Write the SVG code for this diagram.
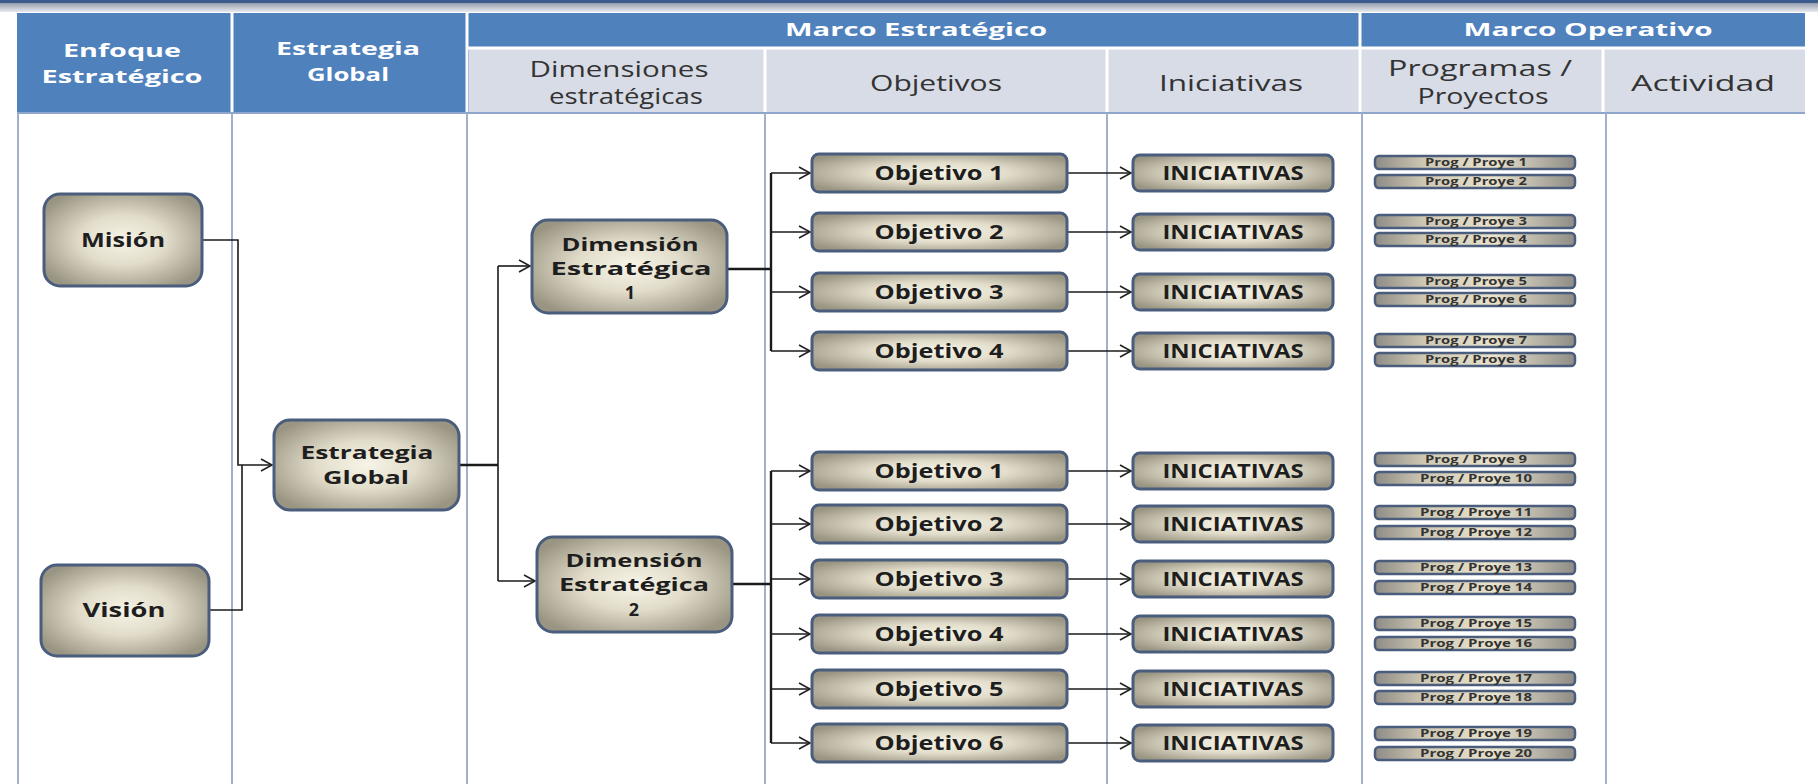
<svg xmlns="http://www.w3.org/2000/svg" width="1818" height="784" viewBox="0 0 1818 784">
<defs>
<radialGradient id="ng" cx="50%" cy="50%" r="60%">
<stop offset="0" stop-color="#F7F4E8"/>
<stop offset="0.45" stop-color="#E2DDCA"/>
<stop offset="1" stop-color="#9A9482"/>
</radialGradient>
<linearGradient id="pg" x1="0" y1="0" x2="1" y2="0">
<stop offset="0" stop-color="#8E8C86"/>
<stop offset="0.25" stop-color="#CFC8B4"/>
<stop offset="0.6" stop-color="#E9E2CC"/>
<stop offset="1" stop-color="#8E8C86"/>
</linearGradient>
<linearGradient id="topband" x1="0" y1="0" x2="0" y2="1">
<stop offset="0" stop-color="#3E5E8E"/>
<stop offset="0.3" stop-color="#9AA3B3"/>
<stop offset="1" stop-color="#E8EAEE"/>
</linearGradient>
<marker id="arr" markerWidth="14" markerHeight="14" refX="12" refY="7" orient="auto" markerUnits="userSpaceOnUse">
<path d="M1,1 L12,7 L1,13" fill="none" stroke="#222" stroke-width="1.6"/>
</marker>
<style>
.hd{font-family:"Open Sans","DejaVu Sans",sans-serif;font-weight:bold;font-size:18px;fill:#fff;text-anchor:middle}
.sh{font-family:"Open Sans","Liberation Sans",sans-serif;font-size:21px;fill:#333;text-anchor:middle}
.node rect{fill:url(#ng);stroke:#4A5D7C;stroke-width:3}
.nt{font-family:"Open Sans","Liberation Sans",sans-serif;font-weight:bold;font-size:20px;fill:#1E1E1E;text-anchor:middle}
.nt2{font-family:"Open Sans","Liberation Sans",sans-serif;font-weight:bold;font-size:18px;fill:#1E1E1E;text-anchor:middle}
.pt{font-family:"Open Sans","Liberation Sans",sans-serif;font-weight:bold;font-size:10px;fill:#333;text-anchor:middle}
.prog rect{fill:url(#pg);stroke:#4A5D7C;stroke-width:2.5}
.vl{stroke:#A3B0CB;stroke-width:2}
.cn{fill:none;stroke:#1A1A1A;stroke-width:1.6}
.cb{fill:none;stroke:#1A1A1A;stroke-width:2.4}
</style>
</defs>
<rect x="0" y="0" width="1818" height="784" fill="#FFFFFF"/>
<g id="header">
<rect x="0" y="0" width="1818" height="12" fill="url(#topband)"/>
<rect x="0" y="0" width="1818" height="3" fill="#3B5B8C"/>
<rect x="17" y="13" width="1788" height="100" fill="#4F81BD"/>
<rect x="469" y="49" width="1336" height="63" fill="#D8DCE6"/>
<g stroke="#FFFFFF" stroke-width="3">
<line x1="232" y1="12" x2="232" y2="113"/>
<line x1="467" y1="12" x2="467" y2="113"/>
<line x1="1360" y1="12" x2="1360" y2="113"/>
<line x1="467" y1="48" x2="1805" y2="48"/>
<line x1="765" y1="48" x2="765" y2="113"/>
<line x1="1107" y1="48" x2="1107" y2="113"/>
<line x1="1603" y1="48" x2="1603" y2="113"/>
</g>
<line x1="17" y1="113" x2="1805" y2="113" stroke="#8FA6CC" stroke-width="2"/>
<text class="hd" x="122" y="57" textLength="118" lengthAdjust="spacingAndGlyphs">Enfoque</text>
<text class="hd" x="122" y="83" textLength="161" lengthAdjust="spacingAndGlyphs">Estratégico</text>
<text class="hd" x="348" y="55" textLength="144" lengthAdjust="spacingAndGlyphs">Estrategia</text>
<text class="hd" x="348" y="81" textLength="82" lengthAdjust="spacingAndGlyphs">Global</text>
<text class="hd" x="916" y="36" textLength="262" lengthAdjust="spacingAndGlyphs">Marco Estratégico</text>
<text class="hd" x="1588" y="36" textLength="249" lengthAdjust="spacingAndGlyphs">Marco Operativo</text>
<text class="sh" x="619" y="77" textLength="179" lengthAdjust="spacingAndGlyphs">Dimensiones</text>
<text class="sh" x="626" y="104" textLength="154" lengthAdjust="spacingAndGlyphs">estratégicas</text>
<text class="sh" x="936" y="91" textLength="132" lengthAdjust="spacingAndGlyphs">Objetivos</text>
<text class="sh" x="1231" y="91" textLength="144" lengthAdjust="spacingAndGlyphs">Iniciativas</text>
<text class="sh" x="1480" y="76" textLength="184" lengthAdjust="spacingAndGlyphs">Programas /</text>
<text class="sh" x="1483" y="104" textLength="131" lengthAdjust="spacingAndGlyphs">Proyectos</text>
<text class="sh" x="1703" y="91" textLength="144" lengthAdjust="spacingAndGlyphs">Actividad</text>
</g>
<g id="gridlines">
<line class="vl" x1="18" y1="113" x2="18" y2="784"/>
<line class="vl" x1="232" y1="113" x2="232" y2="784"/>
<line class="vl" x1="467" y1="113" x2="467" y2="784"/>
<line class="vl" x1="765" y1="113" x2="765" y2="784"/>
<line class="vl" x1="1107" y1="113" x2="1107" y2="784"/>
<line class="vl" x1="1362" y1="113" x2="1362" y2="784"/>
<line class="vl" x1="1606" y1="113" x2="1606" y2="784"/>
</g>
<g id="connectors">
<path class="cn" d="M202,240 H238 V465 H272" marker-end="url(#arr)"/>
<path class="cn" d="M209,610 H242 V465"/>
<path class="cb" d="M459,465 H498"/>
<path class="cn" d="M498,266 V581"/>
<path class="cn" d="M498,266 H530" marker-end="url(#arr)"/>
<path class="cn" d="M498,581 H535" marker-end="url(#arr)"/>
<path class="cb" d="M727,269 H771"/>
<path class="cb" d="M771,173 V351"/>
<path class="cb" d="M732,584 H771"/>
<path class="cb" d="M771,471 V743"/>
<path class="cn" d="M771,173 H810" marker-end="url(#arr)"/>
<path class="cn" d="M771,232 H810" marker-end="url(#arr)"/>
<path class="cn" d="M771,292 H810" marker-end="url(#arr)"/>
<path class="cn" d="M771,351 H810" marker-end="url(#arr)"/>
<path class="cn" d="M771,471 H810" marker-end="url(#arr)"/>
<path class="cn" d="M771,524 H810" marker-end="url(#arr)"/>
<path class="cn" d="M771,579 H810" marker-end="url(#arr)"/>
<path class="cn" d="M771,634 H810" marker-end="url(#arr)"/>
<path class="cn" d="M771,689 H810" marker-end="url(#arr)"/>
<path class="cn" d="M771,743 H810" marker-end="url(#arr)"/>
<path class="cn" d="M1067,173 H1131" marker-end="url(#arr)"/>
<path class="cn" d="M1067,232 H1131" marker-end="url(#arr)"/>
<path class="cn" d="M1067,292 H1131" marker-end="url(#arr)"/>
<path class="cn" d="M1067,351 H1131" marker-end="url(#arr)"/>
<path class="cn" d="M1067,471 H1131" marker-end="url(#arr)"/>
<path class="cn" d="M1067,524 H1131" marker-end="url(#arr)"/>
<path class="cn" d="M1067,579 H1131" marker-end="url(#arr)"/>
<path class="cn" d="M1067,634 H1131" marker-end="url(#arr)"/>
<path class="cn" d="M1067,689 H1131" marker-end="url(#arr)"/>
<path class="cn" d="M1067,743 H1131" marker-end="url(#arr)"/>
</g>
<g id="mision" class="node"><rect x="44" y="194" width="158" height="92" rx="16"/><text class="nt" x="123" y="247" textLength="84" lengthAdjust="spacingAndGlyphs">Misión</text></g>
<g id="vision" class="node"><rect x="41" y="565" width="168" height="91" rx="16"/><text class="nt" x="124" y="617" textLength="83" lengthAdjust="spacingAndGlyphs">Visión</text></g>
<g id="estrategia" class="node"><rect x="274" y="420" width="185" height="90" rx="16"/><text class="nt2" x="367" y="459" textLength="133" lengthAdjust="spacingAndGlyphs">Estrategia</text><text class="nt2" x="366" y="484" textLength="86" lengthAdjust="spacingAndGlyphs">Global</text></g>
<g id="dim1" class="node"><rect x="532" y="220" width="195" height="93" rx="16"/><text class="nt2" x="630" y="251" textLength="137" lengthAdjust="spacingAndGlyphs">Dimensión</text><text class="nt2" x="631" y="275" textLength="161" lengthAdjust="spacingAndGlyphs">Estratégica</text><text class="nt2" x="630" y="299">1</text></g>
<g id="dim2" class="node"><rect x="537" y="537" width="195" height="95" rx="16"/><text class="nt2" x="634" y="567" textLength="137" lengthAdjust="spacingAndGlyphs">Dimensión</text><text class="nt2" x="634" y="591" textLength="150" lengthAdjust="spacingAndGlyphs">Estratégica</text><text class="nt2" x="634" y="616">2</text></g>
<g id="obj1-1" class="node"><rect x="812" y="154" width="255" height="38" rx="7"/><text class="nt" x="939" y="180" textLength="129" lengthAdjust="spacingAndGlyphs">Objetivo 1</text></g>
<g id="obj1-2" class="node"><rect x="812" y="213" width="255" height="38" rx="7"/><text class="nt" x="939" y="239" textLength="129" lengthAdjust="spacingAndGlyphs">Objetivo 2</text></g>
<g id="obj1-3" class="node"><rect x="812" y="273" width="255" height="38" rx="7"/><text class="nt" x="939" y="299" textLength="129" lengthAdjust="spacingAndGlyphs">Objetivo 3</text></g>
<g id="obj1-4" class="node"><rect x="812" y="332" width="255" height="38" rx="7"/><text class="nt" x="939" y="358" textLength="129" lengthAdjust="spacingAndGlyphs">Objetivo 4</text></g>
<g id="obj2-1" class="node"><rect x="812" y="452" width="255" height="38" rx="7"/><text class="nt" x="939" y="478" textLength="129" lengthAdjust="spacingAndGlyphs">Objetivo 1</text></g>
<g id="obj2-2" class="node"><rect x="812" y="505" width="255" height="38" rx="7"/><text class="nt" x="939" y="531" textLength="129" lengthAdjust="spacingAndGlyphs">Objetivo 2</text></g>
<g id="obj2-3" class="node"><rect x="812" y="560" width="255" height="38" rx="7"/><text class="nt" x="939" y="586" textLength="129" lengthAdjust="spacingAndGlyphs">Objetivo 3</text></g>
<g id="obj2-4" class="node"><rect x="812" y="615" width="255" height="38" rx="7"/><text class="nt" x="939" y="641" textLength="129" lengthAdjust="spacingAndGlyphs">Objetivo 4</text></g>
<g id="obj2-5" class="node"><rect x="812" y="670" width="255" height="38" rx="7"/><text class="nt" x="939" y="696" textLength="129" lengthAdjust="spacingAndGlyphs">Objetivo 5</text></g>
<g id="obj2-6" class="node"><rect x="812" y="724" width="255" height="38" rx="7"/><text class="nt" x="939" y="750" textLength="129" lengthAdjust="spacingAndGlyphs">Objetivo 6</text></g>
<g id="ini1" class="node"><rect x="1133" y="155" width="200" height="36" rx="7"/><text class="nt" x="1233" y="180" textLength="141" lengthAdjust="spacingAndGlyphs">INICIATIVAS</text></g>
<g id="ini2" class="node"><rect x="1133" y="214" width="200" height="36" rx="7"/><text class="nt" x="1233" y="239" textLength="141" lengthAdjust="spacingAndGlyphs">INICIATIVAS</text></g>
<g id="ini3" class="node"><rect x="1133" y="274" width="200" height="36" rx="7"/><text class="nt" x="1233" y="299" textLength="141" lengthAdjust="spacingAndGlyphs">INICIATIVAS</text></g>
<g id="ini4" class="node"><rect x="1133" y="333" width="200" height="36" rx="7"/><text class="nt" x="1233" y="358" textLength="141" lengthAdjust="spacingAndGlyphs">INICIATIVAS</text></g>
<g id="ini5" class="node"><rect x="1133" y="453" width="200" height="36" rx="7"/><text class="nt" x="1233" y="478" textLength="141" lengthAdjust="spacingAndGlyphs">INICIATIVAS</text></g>
<g id="ini6" class="node"><rect x="1133" y="506" width="200" height="36" rx="7"/><text class="nt" x="1233" y="531" textLength="141" lengthAdjust="spacingAndGlyphs">INICIATIVAS</text></g>
<g id="ini7" class="node"><rect x="1133" y="561" width="200" height="36" rx="7"/><text class="nt" x="1233" y="586" textLength="141" lengthAdjust="spacingAndGlyphs">INICIATIVAS</text></g>
<g id="ini8" class="node"><rect x="1133" y="616" width="200" height="36" rx="7"/><text class="nt" x="1233" y="641" textLength="141" lengthAdjust="spacingAndGlyphs">INICIATIVAS</text></g>
<g id="ini9" class="node"><rect x="1133" y="671" width="200" height="36" rx="7"/><text class="nt" x="1233" y="696" textLength="141" lengthAdjust="spacingAndGlyphs">INICIATIVAS</text></g>
<g id="ini10" class="node"><rect x="1133" y="725" width="200" height="36" rx="7"/><text class="nt" x="1233" y="750" textLength="141" lengthAdjust="spacingAndGlyphs">INICIATIVAS</text></g>
<g id="p1" class="prog"><rect x="1375" y="156" width="200" height="13" rx="4"/><text class="pt" x="1476" y="166" textLength="102" lengthAdjust="spacingAndGlyphs">Prog / Proye 1</text></g>
<g id="p2" class="prog"><rect x="1375" y="175" width="200" height="13" rx="4"/><text class="pt" x="1476" y="185" textLength="102" lengthAdjust="spacingAndGlyphs">Prog / Proye 2</text></g>
<g id="p3" class="prog"><rect x="1375" y="215" width="200" height="13" rx="4"/><text class="pt" x="1476" y="225" textLength="102" lengthAdjust="spacingAndGlyphs">Prog / Proye 3</text></g>
<g id="p4" class="prog"><rect x="1375" y="233" width="200" height="13" rx="4"/><text class="pt" x="1476" y="243" textLength="102" lengthAdjust="spacingAndGlyphs">Prog / Proye 4</text></g>
<g id="p5" class="prog"><rect x="1375" y="275" width="200" height="13" rx="4"/><text class="pt" x="1476" y="285" textLength="102" lengthAdjust="spacingAndGlyphs">Prog / Proye 5</text></g>
<g id="p6" class="prog"><rect x="1375" y="293" width="200" height="13" rx="4"/><text class="pt" x="1476" y="303" textLength="102" lengthAdjust="spacingAndGlyphs">Prog / Proye 6</text></g>
<g id="p7" class="prog"><rect x="1375" y="334" width="200" height="13" rx="4"/><text class="pt" x="1476" y="344" textLength="102" lengthAdjust="spacingAndGlyphs">Prog / Proye 7</text></g>
<g id="p8" class="prog"><rect x="1375" y="353" width="200" height="13" rx="4"/><text class="pt" x="1476" y="363" textLength="102" lengthAdjust="spacingAndGlyphs">Prog / Proye 8</text></g>
<g id="p9" class="prog"><rect x="1375" y="453" width="200" height="13" rx="4"/><text class="pt" x="1476" y="463" textLength="102" lengthAdjust="spacingAndGlyphs">Prog / Proye 9</text></g>
<g id="p10" class="prog"><rect x="1375" y="472" width="200" height="13" rx="4"/><text class="pt" x="1476" y="482" textLength="112" lengthAdjust="spacingAndGlyphs">Prog / Proye 10</text></g>
<g id="p11" class="prog"><rect x="1375" y="506" width="200" height="13" rx="4"/><text class="pt" x="1476" y="516" textLength="112" lengthAdjust="spacingAndGlyphs">Prog / Proye 11</text></g>
<g id="p12" class="prog"><rect x="1375" y="526" width="200" height="13" rx="4"/><text class="pt" x="1476" y="536" textLength="112" lengthAdjust="spacingAndGlyphs">Prog / Proye 12</text></g>
<g id="p13" class="prog"><rect x="1375" y="561" width="200" height="13" rx="4"/><text class="pt" x="1476" y="571" textLength="112" lengthAdjust="spacingAndGlyphs">Prog / Proye 13</text></g>
<g id="p14" class="prog"><rect x="1375" y="581" width="200" height="13" rx="4"/><text class="pt" x="1476" y="591" textLength="112" lengthAdjust="spacingAndGlyphs">Prog / Proye 14</text></g>
<g id="p15" class="prog"><rect x="1375" y="617" width="200" height="13" rx="4"/><text class="pt" x="1476" y="627" textLength="112" lengthAdjust="spacingAndGlyphs">Prog / Proye 15</text></g>
<g id="p16" class="prog"><rect x="1375" y="637" width="200" height="13" rx="4"/><text class="pt" x="1476" y="647" textLength="112" lengthAdjust="spacingAndGlyphs">Prog / Proye 16</text></g>
<g id="p17" class="prog"><rect x="1375" y="672" width="200" height="13" rx="4"/><text class="pt" x="1476" y="682" textLength="112" lengthAdjust="spacingAndGlyphs">Prog / Proye 17</text></g>
<g id="p18" class="prog"><rect x="1375" y="691" width="200" height="13" rx="4"/><text class="pt" x="1476" y="701" textLength="112" lengthAdjust="spacingAndGlyphs">Prog / Proye 18</text></g>
<g id="p19" class="prog"><rect x="1375" y="727" width="200" height="13" rx="4"/><text class="pt" x="1476" y="737" textLength="112" lengthAdjust="spacingAndGlyphs">Prog / Proye 19</text></g>
<g id="p20" class="prog"><rect x="1375" y="747" width="200" height="13" rx="4"/><text class="pt" x="1476" y="757" textLength="112" lengthAdjust="spacingAndGlyphs">Prog / Proye 20</text></g>
</svg>
